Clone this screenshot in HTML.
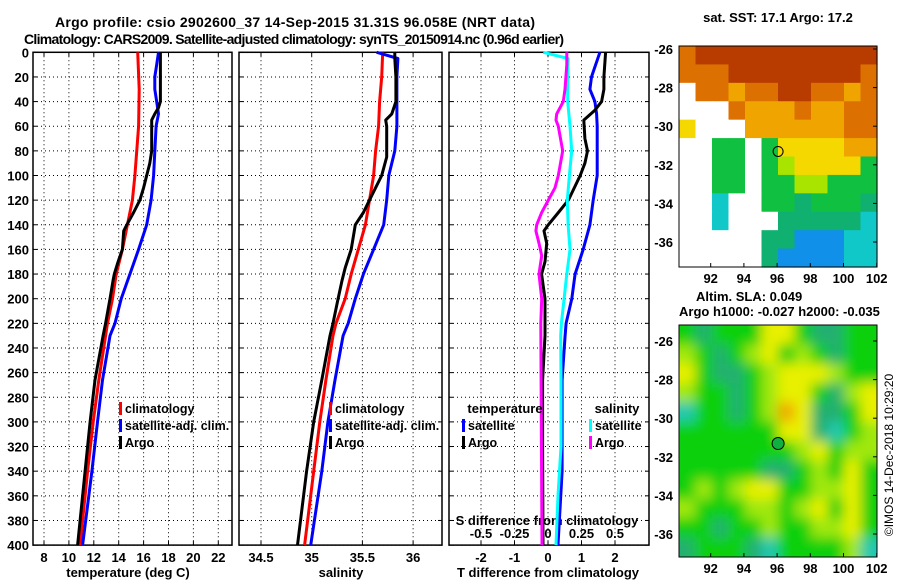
<!DOCTYPE html>
<html><head><meta charset="utf-8"><style>
html,body{margin:0;padding:0;background:#fff}
svg{display:block;font-family:"Liberation Sans",Arial,sans-serif;font-weight:bold}
</style></head><body>
<svg id="fig" width="900" height="580" viewBox="0 0 900 580" xmlns="http://www.w3.org/2000/svg">
<defs><filter id="blur" x="0" y="0" width="1" height="1"><feGaussianBlur stdDeviation="6"/></filter>
<clipPath id="clip2"><rect x="679" y="325" width="198" height="232"/></clipPath></defs>
<text x="55" y="27" font-size="14" textLength="480">Argo profile: csio 2902600_37 14-Sep-2015 31.31S 96.058E (NRT data)</text>
<text x="24" y="44" font-size="14" textLength="540">Climatology: CARS2009. Satellite-adjusted climatology: synTS_20150914.nc (0.96d earlier)</text>
<g id="g"></g>
</svg>
<script>
// ---- profile data ----
const depthT = [0,10,20,30,40,45,50,55,60,80,90,100,110,120,130,140,145,160,170,180,185,200,220,230,266,300,340,400];
const tempArgo = [17.35,17.35,17.35,17.35,17.35,17.2,16.9,16.65,16.65,16.65,16.5,16.25,16.0,15.7,15.2,14.65,14.4,14.3,13.95,13.65,13.55,13.3,12.95,12.75,12.1,11.7,11.3,10.7];
const depthC = [0,30,60,100,120,130,140,160,180,200,220,266,300,340,400];
const tempClim = [15.53,15.65,15.6,15.3,15.1,14.9,14.7,14.3,13.8,13.5,13.1,12.4,11.95,11.5,10.9];
const depthS = [0,10,20,30,40,50,60,100,120,140,160,180,200,220,230,266,300,340,400];
const tempSat = [17.2,17.05,16.9,16.9,17.05,17.2,17.0,16.8,16.6,16.25,15.6,14.9,14.2,13.7,13.3,12.7,12.3,11.85,11.1];
const depthSal = [0,20,40,60,80,100,120,140,160,180,200,220,230,266,300,340,400];
const salClim = [35.70,35.69,35.67,35.66,35.63,35.61,35.57,35.53,35.46,35.39,35.33,35.24,35.21,35.14,35.08,35.02,34.93];
const depthSalSat = [0,5,20,40,60,80,100,120,140,160,180,200,220,230,266,300,340,400];
const salSat = [35.64,35.85,35.84,35.84,35.84,35.82,35.76,35.74,35.71,35.61,35.51,35.43,35.36,35.31,35.23,35.16,35.10,34.99];
const depthSalArgo = [0,5,20,40,50,55,60,85,100,120,130,140,145,160,175,185,200,220,230,266,300,340,400];
const salArgo = [35.82,35.82,35.83,35.83,35.79,35.73,35.74,35.74,35.69,35.57,35.51,35.43,35.42,35.39,35.33,35.30,35.26,35.21,35.18,35.10,35.02,34.95,34.86];
const depthDT = [0,20,30,40,50,60,100,120,140,160,180,200,220,230,266,340,400];
const dTSat = [1.55,1.30,1.25,1.40,1.45,1.47,1.47,1.35,1.25,1.05,0.81,0.71,0.54,0.51,0.42,0.42,0.30];
const depthDTA = [0,20,30,40,47,55,70,80,90,100,120,130,140,145,155,170,180,190,200,230,266,320,400];
const dTArgo = [1.72,1.67,1.67,1.60,1.40,1.07,1.10,1.18,1.10,0.96,0.61,0.31,0.01,-0.12,-0.04,-0.09,-0.19,-0.14,-0.09,-0.09,-0.16,-0.16,-0.15];
const depthDS = [0,5,20,40,60,80,100,120,140,160,180,200,220,230,266,320,360,400];
const dSSat = [-0.035,0.15,0.147,0.147,0.164,0.177,0.16,0.144,0.15,0.164,0.14,0.12,0.10,0.095,0.097,0.097,0.075,0.06];
const depthDSA = [0,10,30,40,50,55,60,80,100,110,120,130,140,145,155,165,180,200,220,300,400];
const dSArgo = [0.14,0.14,0.127,0.114,0.065,0.06,0.077,0.11,0.077,0.052,0.002,-0.047,-0.084,-0.09,-0.067,-0.047,-0.067,-0.047,-0.054,-0.05,-0.045];
const depthTicks = [0,20,40,60,80,100,120,140,160,180,200,220,240,260,280,300,320,340,360,380,400];
const tempTicks = [8,10,12,14,16,18,20,22];
const salTicks = [34.5,35,35.5,36];
const salTickLabels = ["34.5","35","35.5","36"];
const dTTicks = [-2,-1,0,1,2];
const dSTicks = [-0.5,-0.25,0,0.25,0.5];
const dSTickLabels = ["-0.5","-0.25","0","0.25","0.5"];
// ---- map data (colour-class grids) ----
const sstRows = ["ODDDDDDDDDDD","OOODDDDDDDDO","WOOAOODDOOAO","WWWOAAAOAAOO","YWWWAAAAAAOO","WWGGWGYYYYAA","WWGGWGLYYYYG","WWGGWGGLLGGG","WWCWWGGTGGGT","WWCWWWTTTTTC","WWWWWTTBBBCC","WWWWWTBBBBCC"];
const slaRows = ["GTGGGYYGTTGG","LGTGLYGLGTGG","YGTTGLYYYLGG","LGGTGLYYGTLY","CGGTGLOYTTGY","GGGGGGYYTCGL","GGGGGGGLYGLL","GGGGGTTGLGYG","GLGLYYGGLLYG","LGGGLLGLYGYG","GGTGGLGGLLYG","TGGGTCGGGGLC"];
const sstCol = {D:"#b83c00",O:"#dc7000",A:"#f0a400",Y:"#f4d800",L:"#a8e400",G:"#10c040",T:"#10b070",C:"#10c8c8",B:"#1090e8",W:"#ffffff"};
const slaCol = {G:"#10d010",T:"#20b070",Y:"#e8f000",L:"#a0e810",O:"#f0a800",C:"#20c8b0"};
const mapLatTicks = [-26,-28,-30,-32,-34,-36];
const mapLonTicks = [92,94,96,98,100,102];

const NS="http://www.w3.org/2000/svg";
const G=document.getElementById('g');
function el(tag,attrs,parent){const e=document.createElementNS(NS,tag);for(const k in attrs)e.setAttribute(k,attrs[k]);(parent||G).appendChild(e);return e;}
const Y0=52.3, YS=1.232;
const yD=d=>Y0+d*YS;
const xT=t=>44+(t-8)*12.45;
const xS=s=>261+(s-34.5)*101.4;
const xDT=t=>548+t*33.5;
const xDS=s=>548+s*134;
const panels=[{x0:33,x1:232,name:"temperature-panel"},{x0:239,x1:442,name:"salinity-panel"},{x0:449,x1:649,name:"difference-panel"}];
const gridX=[tempTicks.map(xT),salTicks.map(xS),dTTicks.map(xDT)];

panels.forEach((p,i)=>{
  const g=el('g',{});
  
  
  depthTicks.forEach(d=>{
    const l=el('line',{x1:p.x0,x2:p.x1,y1:yD(d),y2:yD(d),stroke:"#000","stroke-width":1,"stroke-dasharray":"1,3"},g);
    
    
    el('line',{x1:p.x0,x2:p.x0+4,y1:yD(d),y2:yD(d),stroke:"#000"},g);
    el('line',{x1:p.x1-4,x2:p.x1,y1:yD(d),y2:yD(d),stroke:"#000"},g);
  });
  gridX[i].forEach(x=>{
    const l=el('line',{x1:x,x2:x,y1:Y0,y2:yD(400),stroke:"#000","stroke-width":1,"stroke-dasharray":"1,3"},g);
    
    
    el('line',{x1:x,x2:x,y1:Y0,y2:Y0+4,stroke:"#000"},g);
    el('line',{x1:x,x2:x,y1:yD(400)-4,y2:yD(400),stroke:"#000"},g);
  });
  const r=el('rect',{x:p.x0,y:Y0,width:p.x1-p.x0,height:yD(400)-Y0,fill:"none",stroke:"#000","stroke-width":1.5},g);
  
  
});
depthTicks.forEach(d=>{
  const t=el('text',{x:29,y:yD(d)+5,"font-size":13,"text-anchor":"end"});
  t.textContent=d;
  
  
});
function xlab(arr,labels,fx,y){arr.forEach((v,i)=>{const t=el('text',{x:fx(v),y:y,"font-size":13,"text-anchor":"middle"});t.textContent=labels?labels[i]:v;
  
  });}
xlab(tempTicks,null,xT,562);
xlab(salTicks,salTickLabels,xS,562);
xlab(dTTicks,null,xDT,562);
xlab(dSTicks,dSTickLabels,xDS,538);
function title(txt,x,y,name){const t=el('text',{x:x,y:y,"font-size":13,"text-anchor":"middle"});t.textContent=txt;
  
  }
title("temperature (deg C)",128,577,'temperature-axis-title');
title("salinity",341,577,'salinity-axis-title');
title("T difference from climatology",548,577,'t-diff-axis-title');
title("S difference from climatology",547,525,'s-diff-axis-title');

function line(xs,ds,fx,color,name){
  const pts=xs.map((v,i)=>fx(v).toFixed(1)+","+yD(ds[i]).toFixed(1)).join(" ");
  const l=el('polyline',{points:pts,fill:"none",stroke:color,"stroke-width":3,"stroke-linejoin":"round"});
  
  
}
line(tempClim,depthC,xT,"#ff0000",'temp-climatology-line');
line(tempSat,depthS,xT,"#0000ff",'temp-satellite-line');
line(tempArgo,depthT,xT,"#000000",'temp-argo-line');
line(salClim,depthSal,xS,"#ff0000",'sal-climatology-line');
line(salSat,depthSalSat,xS,"#0000ff",'sal-satellite-line');
line(salArgo,depthSalArgo,xS,"#000000",'sal-argo-line');
line(dTSat,depthDT,xDT,"#0000ff",'tdiff-satellite-line');
line(dTArgo,depthDTA,xDT,"#000000",'tdiff-argo-line');
line(dSSat,depthDS,xDS,"#00ffff",'sdiff-satellite-line');
line(dSArgo,depthDSA,xDS,"#ff00ff",'sdiff-argo-line');

function legend(x,y,color,txt){
  el('rect',{x:x-6,y:y-11,width:3,height:13,fill:color});
  const t=el('text',{x:x,y:y,"font-size":12.5});t.textContent=txt;
  
  
}
legend(125,413,"#ff0000","climatology");legend(125,430,"#0000ff","satellite-adj. clim.");legend(125,447,"#000","Argo");
legend(335,413,"#ff0000","climatology");legend(335,430,"#0000ff","satellite-adj. clim.");legend(335,447,"#000","Argo");
title("temperature",505,413,'legend-temperature-heading');
legend(468,430,"#0000ff","satellite");legend(468,447,"#000","Argo");
title("salinity",617,413,'legend-salinity-heading');
legend(595,430,"#00ffff","satellite");legend(595,447,"#ff00ff","Argo");

function map(rows,cols,top,bottom,blur,name,clip){
  const g=el('g',clip?{"clip-path":"url(#clip2)"}:{});
  
  
  const inner=el('g',blur?{filter:"url(#blur)"}:{},g);
  const x0=679,x1=877,nr=rows.length,nc=rows[0].length;
  const ext=blur?12:0;
  const cw=(x1-x0)/nc, ch=(bottom-top)/nr;
  rows.forEach((row,r)=>{[...row].forEach((c,k)=>{
    let x=x0+k*cw,y=top+r*ch,w=cw+0.6,h=ch+0.6;
    if(blur){if(k==0){x-=ext;w+=ext;} if(k==nc-1)w+=ext; if(r==0){y-=ext;h+=ext;} if(r==nr-1)h+=ext;}
    const cell=el('rect',{x:x,y:y,width:w,height:h,fill:cols[c]},inner);
    
    
  });});
  el('rect',{x:x0,y:top,width:x1-x0,height:bottom-top,fill:"none",stroke:"#000","stroke-width":1},g);
}
map(sstRows,sstCol,46,267,false,'sst-map');
map(slaRows,slaCol,325,557,true,'sla-map',true);
el('rect',{x:679,y:325,width:198,height:232,fill:"none",stroke:"#000"});
const latY1=l=>49+(-26-l)*19.3, latY2=l=>341+(-26-l)*19.3, lonX=l=>710.7+(l-92)*16.6;
[[latY1,267],[latY2,557]].forEach(([fy,bot])=>{
  mapLatTicks.forEach(l=>{const t=el('text',{x:673,y:fy(l)+5,"font-size":13,"text-anchor":"end"});t.textContent=l;
    
    
    el('line',{x1:873,x2:877,y1:fy(l),y2:fy(l),stroke:"#000"});});
  mapLonTicks.forEach(l=>{const t=el('text',{x:lonX(l),y:bot+16,"font-size":13,"text-anchor":"middle"});t.textContent=l;
    
    
    el('line',{x1:lonX(l),x2:lonX(l),y1:bot-4,y2:bot,stroke:"#000"});});
});
const c1=el('circle',{cx:lonX(96.06),cy:latY1(-31.31),r:5,fill:"none",stroke:"#000","stroke-width":1});


const c2=el('circle',{cx:lonX(96.06),cy:latY2(-31.31),r:6,fill:"#10b040",stroke:"#000","stroke-width":1});


title("sat. SST: 17.1 Argo: 17.2",778,22,'sst-map-title');
const a=el('text',{x:696,y:301,"font-size":13});a.textContent="Altim. SLA: 0.049";


const b=el('text',{x:679,y:316,"font-size":13});b.textContent="Argo h1000: -0.027 h2000: -0.035";


const v=el('text',{x:0,y:0,"font-size":12,"font-weight":"normal","text-anchor":"middle",transform:"translate(893,455) rotate(-90)"});v.textContent="©IMOS 14-Dec-2018 10:29:20";


</script>
</body></html>
